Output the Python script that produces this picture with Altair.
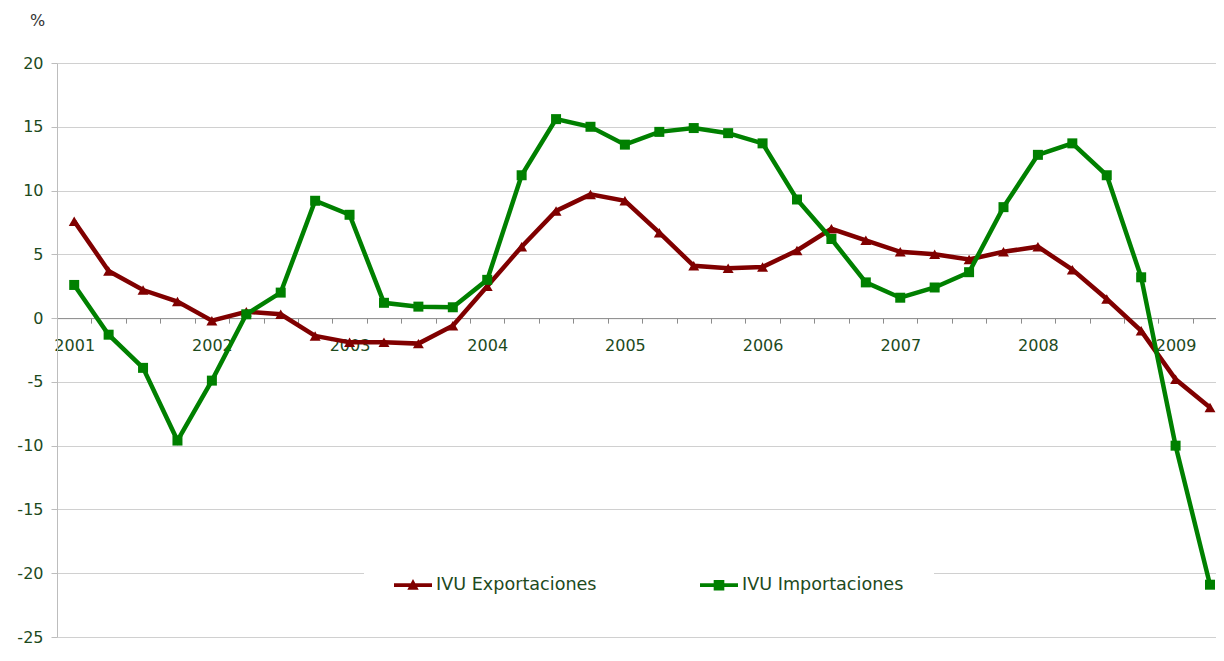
import json
import altair as alt
import pandas as pd

# ---- data ----
year_labels = ["2001", "2002", "2003", "2004", "2005", "2006", "2007", "2008", "2009"]
series_names = ["IVU Exportaciones", "IVU Importaciones"]
quarter_index = list(range(34))  # 2001Q1 .. 2009Q2

exportaciones = [7.6, 3.7, 2.2, 1.3, -0.2, 0.5, 0.3, -1.4,
                 -1.9, -1.9, -2.0, -0.6, 2.5, 5.6, 8.4, 9.7,
                 9.2, 6.7, 4.1, 3.9, 4.0, 5.3, 7.0, 6.1,
                 5.2, 5.0, 4.6, 5.2, 5.6, 3.8, 1.5, -1.0,
                 -4.8, -7.0]
importaciones = [2.6, -1.3, -3.9, -9.6, -4.9, 0.3, 2.0, 9.2,
                 8.1, 1.2, 0.9, 0.85, 3.0, 11.2, 15.6, 15.0,
                 13.6, 14.6, 14.9, 14.5, 13.7, 9.3, 6.2, 2.8,
                 1.6, 2.4, 3.6, 8.7, 12.8, 13.7, 11.2, 3.2,
                 -10.0, -20.9]
y_ticks = [-25, -20, -15, -10, -5, 0, 5, 10, 15, 20]

df = pd.DataFrame({
    "t": quarter_index * 2,
    "serie": [series_names[0]] * len(exportaciones) + [series_names[1]] * len(importaciones),
    "valor": exportaciones + importaciones,
})

# ---- styling ----
FONT = "DejaVu Sans"
LABEL_COLOR = "#1d4a1d"
RED = "#800000"
GREEN = "#008000"
COLORS = [RED, GREEN]
PLOT_W = 1159                 # plot area reaches the right edge of the page
LAST_PT = 1153                # pixel position of the last quarter inside the plot
band = LAST_PT / 33.5
x_max = 33 + (PLOT_W - LAST_PT) / band
PLOT_H = 574
TOP = 55
zero_px = PLOT_H * 20 / 45.0
PAD = 30

PATH_TRI = "M-1,-0.1H1V0.1H-1Z M-0.3,0.24L0,-0.32L0.3,0.24Z"
PATH_SQ = "M-1,-0.1H1V0.1H-1Z M-0.28,-0.28H0.28V0.28H-0.28Z"

x_enc = alt.X(
    "t:Q",
    scale=alt.Scale(domain=[-0.5, x_max], nice=False, zero=False),
    axis=alt.Axis(
        values=[i - 0.5 for i in range(34)],
        labelExpr=f"(datum.value + 0.5) % 4 == 0 ? {json.dumps(year_labels)}[(datum.value + 0.5) / 4] : ''",
        labelOffset=band / 2,
        labelFlush=False,
        labelOverlap=False,
        labelFont=FONT,
        labelFontSize=16,
        labelColor=LABEL_COLOR,
        labelPadding=14,
        tickSize=5,
        tickColor="#8c8c8c",
        domainColor="#8c8c8c",
        grid=False,
        title=None,
        offset=-(PLOT_H - zero_px),
    ),
)
y_enc = alt.Y(
    "valor:Q",
    scale=alt.Scale(domain=[-25, 20], nice=False, zero=False),
    axis=alt.Axis(
        values=y_ticks,
        labelExpr="'' + datum.value",
        title="%",
        titleAngle=0,
        titleX=-20,
        titleY=-43,
        titleAlign="center",
        titleBaseline="middle",
        titleFont=FONT,
        titleFontSize=16,
        titleFontWeight="normal",
        titleColor="#333333",
        labelFont=FONT,
        labelFontSize=16,
        labelColor=LABEL_COLOR,
        labelPadding=8,
        tickSize=6,
        tickColor="#bdbdbd",
        domainColor="#bdbdbd",
        grid=True,
        gridColor="#d0d0d0",
    ),
)

legend_kw = dict(
    orient="none",
    legendX=394 - 57 - PAD,
    legendY=585 - (TOP + 8) - 19 - PAD,
    direction="horizontal",
    title=None,
    symbolSize=1444,
    symbolStrokeWidth=0,
    labelFont=FONT,
    labelFontSize=17.6,
    labelColor=LABEL_COLOR,
    labelLimit=400,
    columnPadding=103,
    padding=PAD,
    fillColor="white",
)

base = alt.Chart(df)
layers = []
shapes = ["triangle-up", "square"]
sizes = [120, 100]
for i, name in enumerate(series_names):
    sub = base.transform_filter(alt.datum.serie == name)
    line = sub.mark_line(strokeWidth=4.5, color=COLORS[i]).encode(x=x_enc, y=y_enc)
    pts = sub.mark_point(filled=True, opacity=1, shape=shapes[i], size=sizes[i],
                         strokeWidth=0, color=COLORS[i]).encode(x=x_enc, y=y_enc)
    layers += [line, pts]

# legend-only layer: draws no marks, only supplies the legend entries
legend_layer = base.transform_filter("false").mark_point(filled=True, opacity=1, strokeWidth=0).encode(
    x=x_enc, y=y_enc,
    color=alt.Color("serie:N", scale=alt.Scale(domain=series_names, range=COLORS),
                    legend=alt.Legend(**legend_kw)),
    shape=alt.Shape("serie:N", scale=alt.Scale(domain=series_names, range=[PATH_TRI, PATH_SQ]),
                    legend=alt.Legend(**legend_kw)),
)
layers.append(legend_layer)

chart = alt.layer(*layers).properties(
    width=PLOT_W,
    height=PLOT_H,
    autosize=alt.AutoSizeParams(type="none"),
    padding={"left": 49, "top": TOP, "right": 0, "bottom": 11},
    background="white",
).configure_view(stroke=None)

chart.save("out.html", embed_options={"renderer": "svg", "actions": False})
